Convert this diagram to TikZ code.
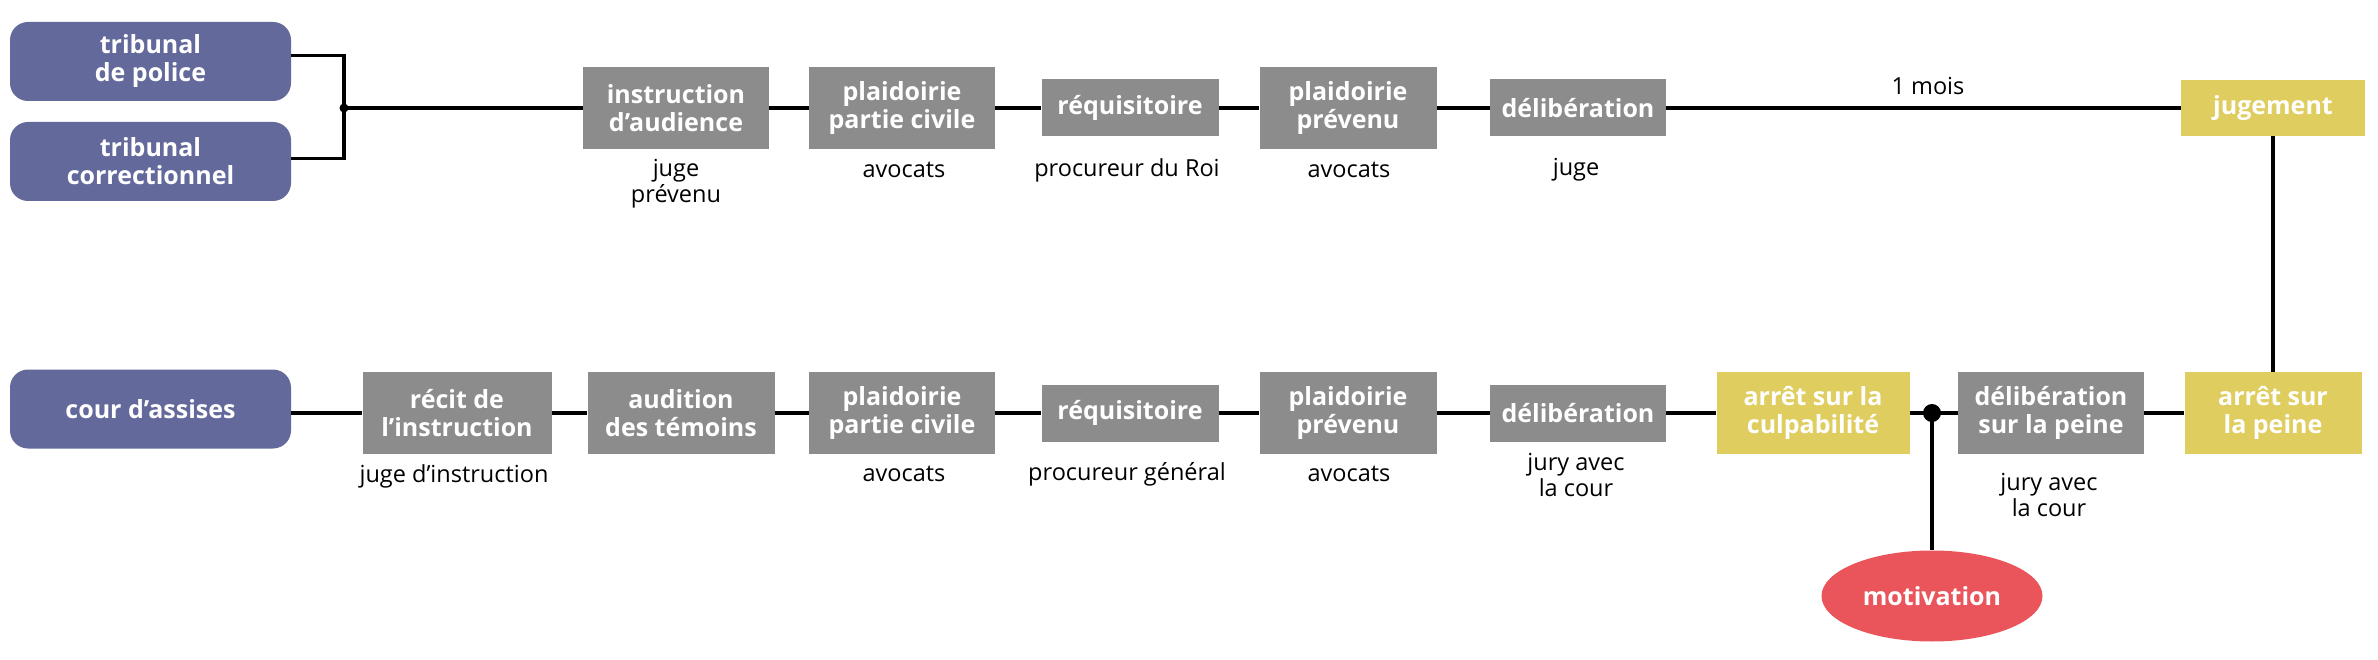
\documentclass[tikz,border=0pt]{standalone}
\usepackage{fontspec}
\setmainfont{Open Sans}
\usepackage{xcolor}
\usepackage{tikz}
\usetikzlibrary{shapes,backgrounds,calc}

\definecolor{courtblue}{RGB}{99,106,155}
\definecolor{stagegray}{RGB}{140,140,140}
\definecolor{verdictyellow}{RGB}{224,205,96}
\definecolor{reasonred}{RGB}{234,85,91}

\begin{document}
\begin{tikzpicture}[x=1pt,y=-1pt]
        % Define the styles for the boxes and the texts under them
        \tikzstyle{court}=[fill=courtblue, rounded corners=18pt, text=white, align=center, inner sep=0pt, minimum width=281pt, minimum height=79pt, font=\bfseries\fontsize{25}{28}\selectfont];
        \tikzstyle{stage}=[fill=stagegray, text=white, align=center, inner sep=0pt, font=\bfseries\fontsize{25}{28}\selectfont];
        \tikzstyle{verdict}=[stage, fill=verdictyellow];
        \tikzstyle{reason}=[ellipse, fill=reasonred, text=white, inner sep=0pt, minimum width=221pt, minimum height=91pt, font=\bfseries\fontsize{25}{28}\selectfont];
        \tikzstyle{who}=[align=center, inner sep=0pt, font=\fontsize{23.5}{26}\selectfont];
        \tikzstyle{link}=[line width=3.5pt];

        % Fix the size of the picture
        \useasboundingbox (0,0) rectangle (2378,660);

        % The courts
        \node[court] (police) at (150.5,61.5) {tribunal\\de police};
        \node[court] (correc) at (150.5,161.5) {tribunal\\correctionnel};
        \node[court] (assises) at (150.5,409) {cour d’assises};
        \coordinate (join) at (344,108);

        % Upper row: tribunal de police and tribunal correctionnel
        \node[stage, minimum width=186pt, minimum height=82pt] (instr) at (676,108) {instruction\\d’audience};
        \node[stage, minimum width=186pt, minimum height=82pt] (pcivA) at (902,108) {plaidoirie\\partie civile};
        \node[stage, minimum width=177pt, minimum height=57pt] (reqA) at (1130,108) {réquisitoire};
        \node[stage, minimum width=177pt, minimum height=82pt] (pprevA) at (1348,108) {plaidoirie\\prévenu};
        \node[stage, minimum width=176pt, minimum height=57pt] (delibA) at (1578,108) {délibération};
        \node[verdict, minimum width=184pt, minimum height=56pt] (jugement) at (2273,108) {jugement};

        % Who speaks in the upper row
        \node[who] (instrWho) at (676,184) {juge\\prévenu};
        \node[who] (pcivAWho) at (904,170) {avocats};
        \node[who] (reqAWho) at (1127,170) {procureur du Roi};
        \node[who] (pprevAWho) at (1349,170) {avocats};
        \node[who] (delibAWho) at (1576,170) {juge};
        \node[who] (mois) at (1928,86) {1 mois};

        % Lower row: cour d'assises
        \node[stage, minimum width=189pt, minimum height=82pt] (recit) at (457,413) {récit de\\l’instruction};
        \node[stage, minimum width=187pt, minimum height=82pt] (audition) at (681,413) {audition\\des témoins};
        \node[stage, minimum width=186pt, minimum height=82pt] (pcivB) at (902,413) {plaidoirie\\partie civile};
        \node[stage, minimum width=177pt, minimum height=57pt] (reqB) at (1130,413) {réquisitoire};
        \node[stage, minimum width=177pt, minimum height=82pt] (pprevB) at (1348,413) {plaidoirie\\prévenu};
        \node[stage, minimum width=176pt, minimum height=57pt] (delibB) at (1578,413) {délibération};
        \node[verdict, minimum width=193pt, minimum height=82pt] (culpa) at (1813,413) {arrêt sur la\\culpabilité};
        \coordinate (fork) at (1932,413);
        \node[stage, minimum width=186pt, minimum height=82pt] (peine) at (2051,413) {délibération\\sur la peine};
        \node[verdict, minimum width=177pt, minimum height=82pt] (arret) at (2273,413) {arrêt sur\\la peine};
        \node[reason] (motiv) at (1932,596) {motivation};

        % Who speaks in the lower row
        \node[who] (recitWho) at (454,476) {juge d’instruction};
        \node[who] (pcivBWho) at (904,474) {avocats};
        \node[who] (reqBWho) at (1127,474) {procureur général};
        \node[who] (pprevBWho) at (1349,474) {avocats};
        \node[who] (delibBWho) at (1576,475) {jury avec\\la cour};
        \node[who] (peineWho) at (2049,495) {jury avec\\la cour};

        % Connect the steps
        \draw[link] ($(police.east)+(0,-6)$) -| (join) |- ($(correc.east)+(0,-3)$);
        \fill (join) circle (4.5pt);
        \draw[link] (join) -- (instr) -- (pcivA) -- (reqA) -- (pprevA) -- (delibA) -- (jugement);
        \draw[link] (jugement) -- (arret);
        \draw[link] (assises.east |- recit) -- (recit) -- (audition) -- (pcivB) -- (reqB) -- (pprevB) -- (delibB) -- (culpa) -- (fork) -- (peine) -- (arret);
        \draw[link] (fork) -- (motiv);
        \fill (fork) circle (9pt);
    \end{tikzpicture}
\end{document}
